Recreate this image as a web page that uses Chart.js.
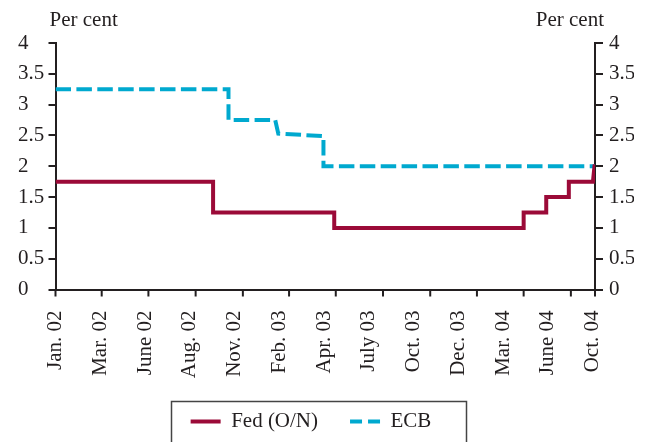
<!DOCTYPE html>
<html><head><meta charset="utf-8">
<script src="https://cdn.jsdelivr.net/npm/chart.js@4.4.1/dist/chart.umd.min.js"></script>
<style>html,body{margin:0;padding:0;background:#fff;}</style>
</head><body>
<canvas id="c" width="646" height="442"></canvas>
<script>
// ---- data ----
const startDate = '2002-01-01';
const endDate = '2004-11-17';
const xTickLabels = ['Jan. 02','Mar. 02','June 02','Aug. 02','Nov. 02','Feb. 03','Apr. 03','July 03','Oct. 03','Dec. 03','Mar. 04','June 04','Oct. 04'];
const labelStepDays = 87.2;
const tickMarkDates = ['2002-01-01','2002-04-01','2002-07-01','2002-10-01','2003-01-01','2003-04-01','2003-07-01','2003-10-01','2004-01-01','2004-04-01','2004-07-01','2004-10-01','2004-11-17'];
const seriesNames = ['Fed (O/N)', 'ECB'];
const fedDates = ['2002-01-01','2002-11-04','2002-11-04','2003-06-28','2003-06-28','2004-07-01','2004-07-01','2004-08-14','2004-08-14','2004-09-27','2004-09-27','2004-11-13','2004-11-16','2004-11-17'];
const fedRates = [1.75,1.75,1.25,1.25,1.00,1.00,1.25,1.25,1.50,1.50,1.75,1.75,2.00,2.00];
const ecbDates = ['2002-01-01','2002-12-04','2002-12-04','2003-03-05','2003-03-11','2003-06-06','2003-06-07','2003-06-07','2004-11-17'];
const ecbRates = [3.25,3.25,2.75,2.75,2.53,2.49,2.49,2.00,2.00];
const yMin = 0, yMax = 4, yStep = 0.5;
const unitLabel = 'Per cent';

// ---- helpers ----
const t0 = Date.parse(startDate + 'T00:00:00Z');
const dayOf = d => (Date.parse(d + 'T00:00:00Z') - t0) / 86400000;
const INK = '#231f20';
const FED = '#9b0a38';
const ECB = '#00a9cf';
const FONT = {family: "'Liberation Serif', 'Times New Roman', serif", size: 21};
const LEGEND_SHIFT = -15;

const decor = {
  id: 'decor',
  afterUpdate(chart) {
    const lg = chart.legend;
    if (lg) { lg.left += LEGEND_SHIFT; lg.right += LEGEND_SHIFT; lg.adjustHitBoxes(); }
  },
  afterDraw(chart) {
    const ctx = chart.ctx, xs = chart.scales.x, area = chart.chartArea;
    ctx.save();
    // x tick marks
    ctx.strokeStyle = INK; ctx.lineWidth = 2;
    tickMarkDates.forEach(d => {
      const px = xs.getPixelForValue(dayOf(d));
      ctx.beginPath(); ctx.moveTo(px, area.bottom); ctx.lineTo(px, area.bottom + 7); ctx.stroke();
    });
    // unit labels
    ctx.fillStyle = INK;
    ctx.font = `${FONT.size}px ${FONT.family}`;
    ctx.textBaseline = 'middle';
    ctx.textAlign = 'left';
    ctx.fillText(unitLabel, area.left - 6, 20);
    ctx.textAlign = 'right';
    ctx.fillText(unitLabel, area.right + 9, 20);
    // legend frame
    const hb = chart.legend.legendHitBoxes;
    if (hb && hb.length) {
      const l = hb[0].left - 20, last = hb[hb.length - 1];
      const r = last.left + last.width + 34;
      const t = 401;
      ctx.strokeStyle = '#444'; ctx.lineWidth = 1.5;
      ctx.strokeRect(Math.round(l) + 0.5, t + 0.5, Math.round(r - l), chart.height + 10 - t);
    }
    ctx.restore();
  }
};

new Chart(document.getElementById('c'), {
  type: 'line',
  data: {
    datasets: [
      {label: seriesNames[0], data: fedDates.map((d, i) => ({x: dayOf(d), y: fedRates[i]})),
       borderColor: FED, backgroundColor: FED, borderWidth: 4, pointRadius: 0, tension: 0,
       borderJoinStyle: 'miter', borderCapStyle: 'butt', fill: false, yAxisID: 'y'},
      {label: seriesNames[1], data: ecbDates.map((d, i) => ({x: dayOf(d), y: ecbRates[i]})),
       borderColor: ECB, backgroundColor: ECB, borderWidth: 4, borderDash: [15.5, 5.4], pointRadius: 0, tension: 0,
       borderJoinStyle: 'miter', borderCapStyle: 'butt', fill: false, yAxisID: 'y'}
    ]
  },
  options: {
    responsive: false, animation: false, devicePixelRatio: 1,
    layout: {padding: {top: 43, left: 18, right: 12, bottom: 0}},
    scales: {
      x: {
        type: 'linear', position: 'bottom', min: 0, max: dayOf(endDate),
        afterBuildTicks: s => { s.ticks = xTickLabels.map((_, i) => ({value: i * labelStepDays})); },
        afterFit: s => { s.height = 89.5; },
        ticks: {autoSkip: false, minRotation: 90, maxRotation: 90, padding: 21, font: FONT, color: INK,
                callback: (v, i) => xTickLabels[i]},
        grid: {display: false, drawTicks: false},
        border: {display: true, color: INK, width: 2}
      },
      y: {
        position: 'left', min: yMin, max: yMax,
        afterFit: s => { s.width = 37.5; },
        ticks: {stepSize: yStep, crossAlign: 'far', padding: 6, font: FONT, color: INK, callback: v => String(v)},
        grid: {display: true, drawOnChartArea: false, drawTicks: true, tickLength: 7, color: INK, lineWidth: 2},
        border: {display: true, color: INK, width: 2}
      },
      y2: {
        position: 'right', min: yMin, max: yMax,
        afterFit: s => { s.width = 39; },
        ticks: {stepSize: yStep, padding: 6, font: FONT, color: INK, callback: v => String(v)},
        grid: {display: true, drawOnChartArea: false, drawTicks: true, tickLength: 8, color: INK, lineWidth: 2},
        border: {display: true, color: INK, width: 2}
      }
    },
    plugins: {
      tooltip: {enabled: false},
      legend: {
        position: 'bottom',
        labels: {
          usePointStyle: true, pointStyleWidth: 30, padding: 32, font: FONT, color: INK,
          generateLabels: chart => Chart.defaults.plugins.legend.labels.generateLabels(chart).map((it, i) => {
            it.pointStyle = 'line';
            it.lineDash = i === 1 ? [12, 6] : [];
            it.lineWidth = 4;
            return it;
          })
        }
      }
    }
  },
  plugins: [decor]
});
</script>
</body></html>
